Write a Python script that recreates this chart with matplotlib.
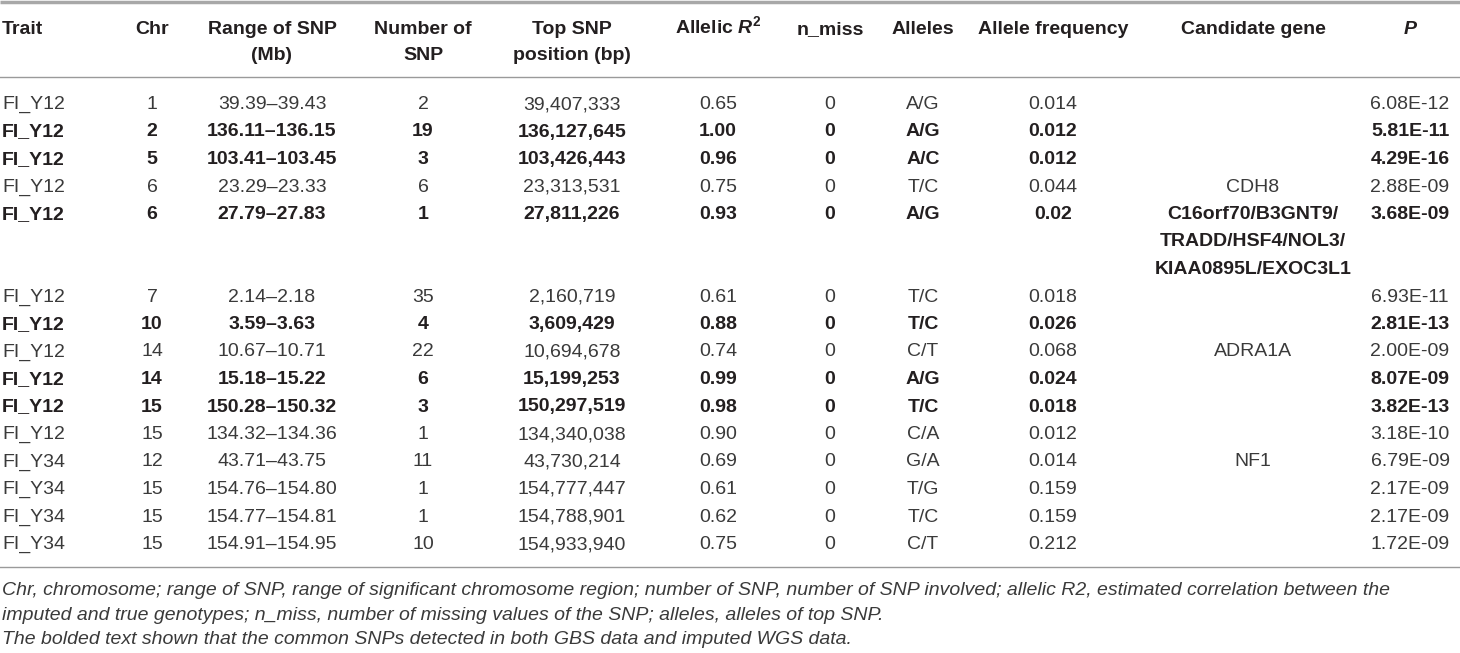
import matplotlib
matplotlib.use("Agg")
from matplotlib import pyplot as plt

plt.rcParams['font.family'] = ['Liberation Sans', 'DejaVu Sans']
plt.rcParams['mathtext.fontset'] = 'custom'
plt.rcParams['mathtext.rm'] = 'Liberation Sans'
plt.rcParams['mathtext.bf'] = 'Liberation Sans:bold'
plt.rcParams['mathtext.bfit'] = 'Liberation Sans:italic:bold'

# table data
traits = ["FI_Y12"] * 11 + ["FI_Y34"] * 4
chrs = ["1", "2", "5", "6", "6", "7", "10", "14", "14", "15", "15", "12", "15", "15", "15"]
ranges = ["39.39–39.43", "136.11–136.15", "103.41–103.45", "23.29–23.33", "27.79–27.83",
          "2.14–2.18", "3.59–3.63", "10.67–10.71", "15.18–15.22", "150.28–150.32",
          "134.32–134.36", "43.71–43.75", "154.76–154.80", "154.77–154.81", "154.91–154.95"]
n_snp = ["2", "19", "3", "6", "1", "35", "4", "22", "6", "3", "1", "11", "1", "1", "10"]
top_pos = ["39,407,333", "136,127,645", "103,426,443", "23,313,531", "27,811,226",
           "2,160,719", "3,609,429", "10,694,678", "15,199,253", "150,297,519",
           "134,340,038", "43,730,214", "154,777,447", "154,788,901", "154,933,940"]
r2 = ["0.65", "1.00", "0.96", "0.75", "0.93", "0.61", "0.88", "0.74", "0.99", "0.98",
      "0.90", "0.69", "0.61", "0.62", "0.75"]
n_miss = ["0"] * 15
alleles = ["A/G", "A/G", "A/C", "T/C", "A/G", "T/C", "T/C", "C/T", "A/G", "T/C",
           "C/A", "G/A", "T/G", "T/C", "C/T"]
freq = ["0.014", "0.012", "0.012", "0.044", "0.02", "0.018", "0.026", "0.068", "0.024",
        "0.018", "0.012", "0.014", "0.159", "0.159", "0.212"]
genes = ["", "", "", "CDH8", "C16orf70/B3GNT9/\nTRADD/HSF4/NOL3/\nKIAA0895L/EXOC3L1",
         "", "", "ADRA1A", "", "", "", "NF1", "", "", ""]
pvals = ["6.08E-12", "5.81E-11", "4.29E-16", "2.88E-09", "3.68E-09", "6.93E-11",
         "2.81E-13", "2.00E-09", "8.07E-09", "3.82E-13", "3.18E-10", "6.79E-09",
         "2.17E-09", "2.17E-09", "1.72E-09"]
bold_rows = [False, True, True, False, True, False, True, False, True, True,
             False, False, False, False, False]

headers = ["Trait", "Chr", "Range of SNP\n(Mb)", "Number of\nSNP", "Top SNP\nposition (bp)",
           r"Allelic $\mathbfit{R}^{\mathbf{2}}$", "n_miss", "Alleles", "Allele frequency",
           "Candidate gene", "P"]

footnotes = [
    "Chr, chromosome; range of SNP, range of significant chromosome region; number of SNP, "
    "number of SNP involved; allelic R2, estimated correlation between the",
    "imputed and true genotypes; n_miss, number of missing values of the SNP; alleles, alleles of top SNP.",
    "The bolded text shown that the common SNPs detected in both GBS data and imputed WGS data.",
]

# layout (pixels)
col_x = [2, 152, 272, 423, 572, 718, 830, 923, 1053, 1253, 1410]
col_ha = ["left"] + ["center"] * 10
W, H = 1460, 653
fs = 14
base_off = 7
pitch = 27.5

fig = plt.figure(figsize=(W / 100, H / 100), dpi=100)
ax = fig.add_axes([0, 0, 1, 1])
ax.set_xlim(0, W)
ax.set_ylim(H, 0)
ax.axis("off")

rule_c = "#9a9a9a"
ax.plot([0, W], [1.5, 1.5], color="#a8a8a8", lw=2.5, solid_capstyle="butt")
ax.plot([0, W], [77, 77], color=rule_c, lw=1.0)
ax.plot([0, W], [567, 567], color=rule_c, lw=1.0)

bold_c = "#231f20"
plain_c = "#3a3a3a"

# header
for j, h in enumerate(headers):
    lines = h.split("\n")
    for k, ln in enumerate(lines):
        ax.text(col_x[j], 27 + k * 26 + base_off, ln, ha=col_ha[j], va="baseline",
                fontsize=fs, fontweight="bold", color=bold_c,
                fontstyle="italic" if h == "P" else "normal")

# body
columns = [traits, chrs, ranges, n_snp, top_pos, r2, n_miss, alleles, freq, genes, pvals]
line_i = 0
for i in range(len(traits)):
    y = 102 + line_i * pitch
    w = "bold" if bold_rows[i] else "normal"
    c = bold_c if bold_rows[i] else plain_c
    n_lines = 1
    for j, col in enumerate(columns):
        parts = col[i].split("\n")
        n_lines = max(n_lines, len(parts))
        for k, p in enumerate(parts):
            ax.text(col_x[j], y + k * pitch + base_off, p, ha=col_ha[j], va="baseline",
                    fontsize=fs, fontweight=w, color=c)
    line_i += n_lines

for k, f in enumerate(footnotes):
    ax.text(2, 588 + k * 24.5 + base_off, f, ha="left", va="baseline", fontsize=fs,
            fontstyle="italic", color=plain_c)

fig.savefig("out.png", dpi=100)
